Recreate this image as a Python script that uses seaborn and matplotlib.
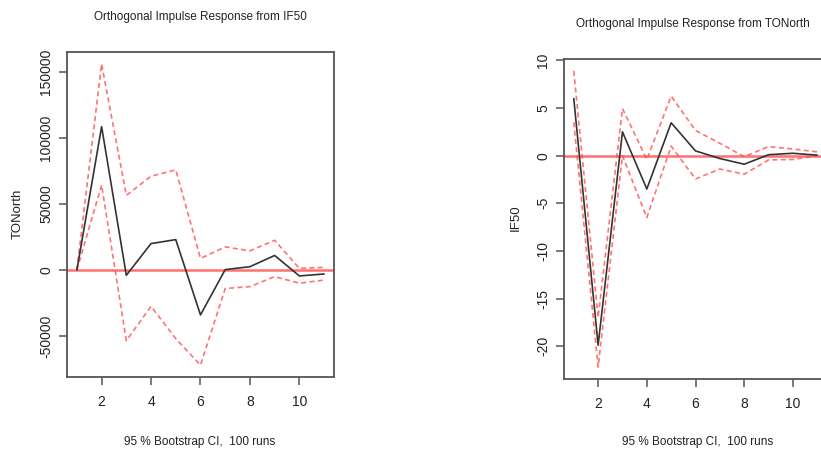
import numpy as np
import pandas as pd
import matplotlib
matplotlib.use("Agg")
import matplotlib.pyplot as plt
import seaborn as sns

sns.set_style("white")
plt.rcParams['font.family'] = ['Liberation Sans', 'DejaVu Sans']

steps = [1, 2, 3, 4, 5, 6, 7, 8, 9, 10, 11]

# Response of TONorth to IF50 shock
tonorth_irf = [0, 108500, -4000, 20000, 23000, -34000, 300, 2500, 11000, -4500, -3000]
tonorth_upper = [0, 156000, 56500, 71000, 75800, 8800, 17500, 14500, 22500, 1200, 2000]
tonorth_lower = [0, 64400, -53500, -27500, -52000, -72000, -14000, -12600, -5000, -10000, -7600]

# Response of IF50 to TONorth shock
if50_irf = [6.0, -19.9, 2.5, -3.5, 3.45, 0.5, -0.3, -0.9, 0.1, 0.25, 0.05]
if50_upper = [8.9, -17.0, 4.95, -0.4, 6.25, 2.65, 1.3, -0.1, 0.95, 0.7, 0.4]
if50_lower = [3.5, -22.2, 0.0, -6.5, 1.0, -2.45, -1.4, -1.95, -0.45, -0.4, 0.0]

titles = ["Orthogonal Impulse Response from IF50", "Orthogonal Impulse Response from TONorth"]
ylabels = ["TONorth", "IF50"]
xlabel = "95 % Bootstrap CI,  100 runs"
yticks_left = [-50000, 0, 50000, 100000, 150000]
yticks_right = [-20, -15, -10, -5, 0, 5, 10]
xticks = [2, 4, 6, 8, 10]

fig = plt.figure(figsize=(8.21, 4.5), dpi=100)
ax1 = fig.add_axes([0.0816, 0.1622, 0.3252, 0.7222])
ax2 = fig.add_axes([0.687, 0.1578, 0.3203, 0.7111])

panels = [
    (ax1, tonorth_irf, tonorth_upper, tonorth_lower, yticks_left, (-81000, 165000), ylabels[0]),
    (ax2, if50_irf, if50_upper, if50_lower, yticks_right, (-23.45, 10.15), ylabels[1]),
]

edge = "#555555"
txt = "#222222"
for ax, irf, up, lo, yt, ylim, ylab in panels:
    df = pd.DataFrame({"step": steps, "irf": irf, "upper": up, "lower": lo})
    ax.axhline(0, color="#ff7070", lw=1.8, zorder=1)
    sns.lineplot(data=df, x="step", y="irf", ax=ax, color="#333333", lw=1.2, zorder=3)
    sns.lineplot(data=df, x="step", y="upper", ax=ax, color="#ff5050", lw=1.2,
                 linestyle=(0, (3, 2)), alpha=0.8, zorder=2)
    sns.lineplot(data=df, x="step", y="lower", ax=ax, color="#ff5050", lw=1.2,
                 linestyle=(0, (3, 2)), alpha=0.8, zorder=2)
    ax.set_xlim(0.6, 11.4)
    ax.set_ylim(*ylim)
    ax.set_xticks(xticks)
    ax.set_yticks(yt)
    ax.set_yticklabels([str(v) for v in yt], rotation=90, va="center")
    ax.tick_params(axis="both", direction="out", length=6, width=1.1, color=edge,
                   labelsize=10, labelcolor=txt, left=True, bottom=True, pad=4)
    ax.tick_params(axis="x", pad=7)
    for s in ax.spines.values():
        s.set_color(edge)
        s.set_linewidth(1.3)
    ax.set_xlabel("")
    ax.set_ylabel("")

fig.text(18 / 821, 1 - 214 / 450, ylabels[0], ha="center", va="center", rotation=90,
         fontsize=9.5, color=txt)
fig.text(516 / 821, 1 - 218 / 450, ylabels[1], ha="center", va="center", rotation=90,
         fontsize=9.5, color=txt)
fig.text(200 / 821, 1 - 17 / 450, titles[0], ha="center", va="center", fontsize=8.5, color=txt)
fig.text(693 / 821, 1 - 24 / 450, titles[1], ha="center", va="center", fontsize=8.5, color=txt)
fig.text(200 / 821, 1 - 442 / 450, xlabel, ha="center", va="center", fontsize=8.5, color=txt)
fig.text(698 / 821, 1 - 442 / 450, xlabel, ha="center", va="center", fontsize=8.5, color=txt)

fig.savefig("out.png", dpi=100)
